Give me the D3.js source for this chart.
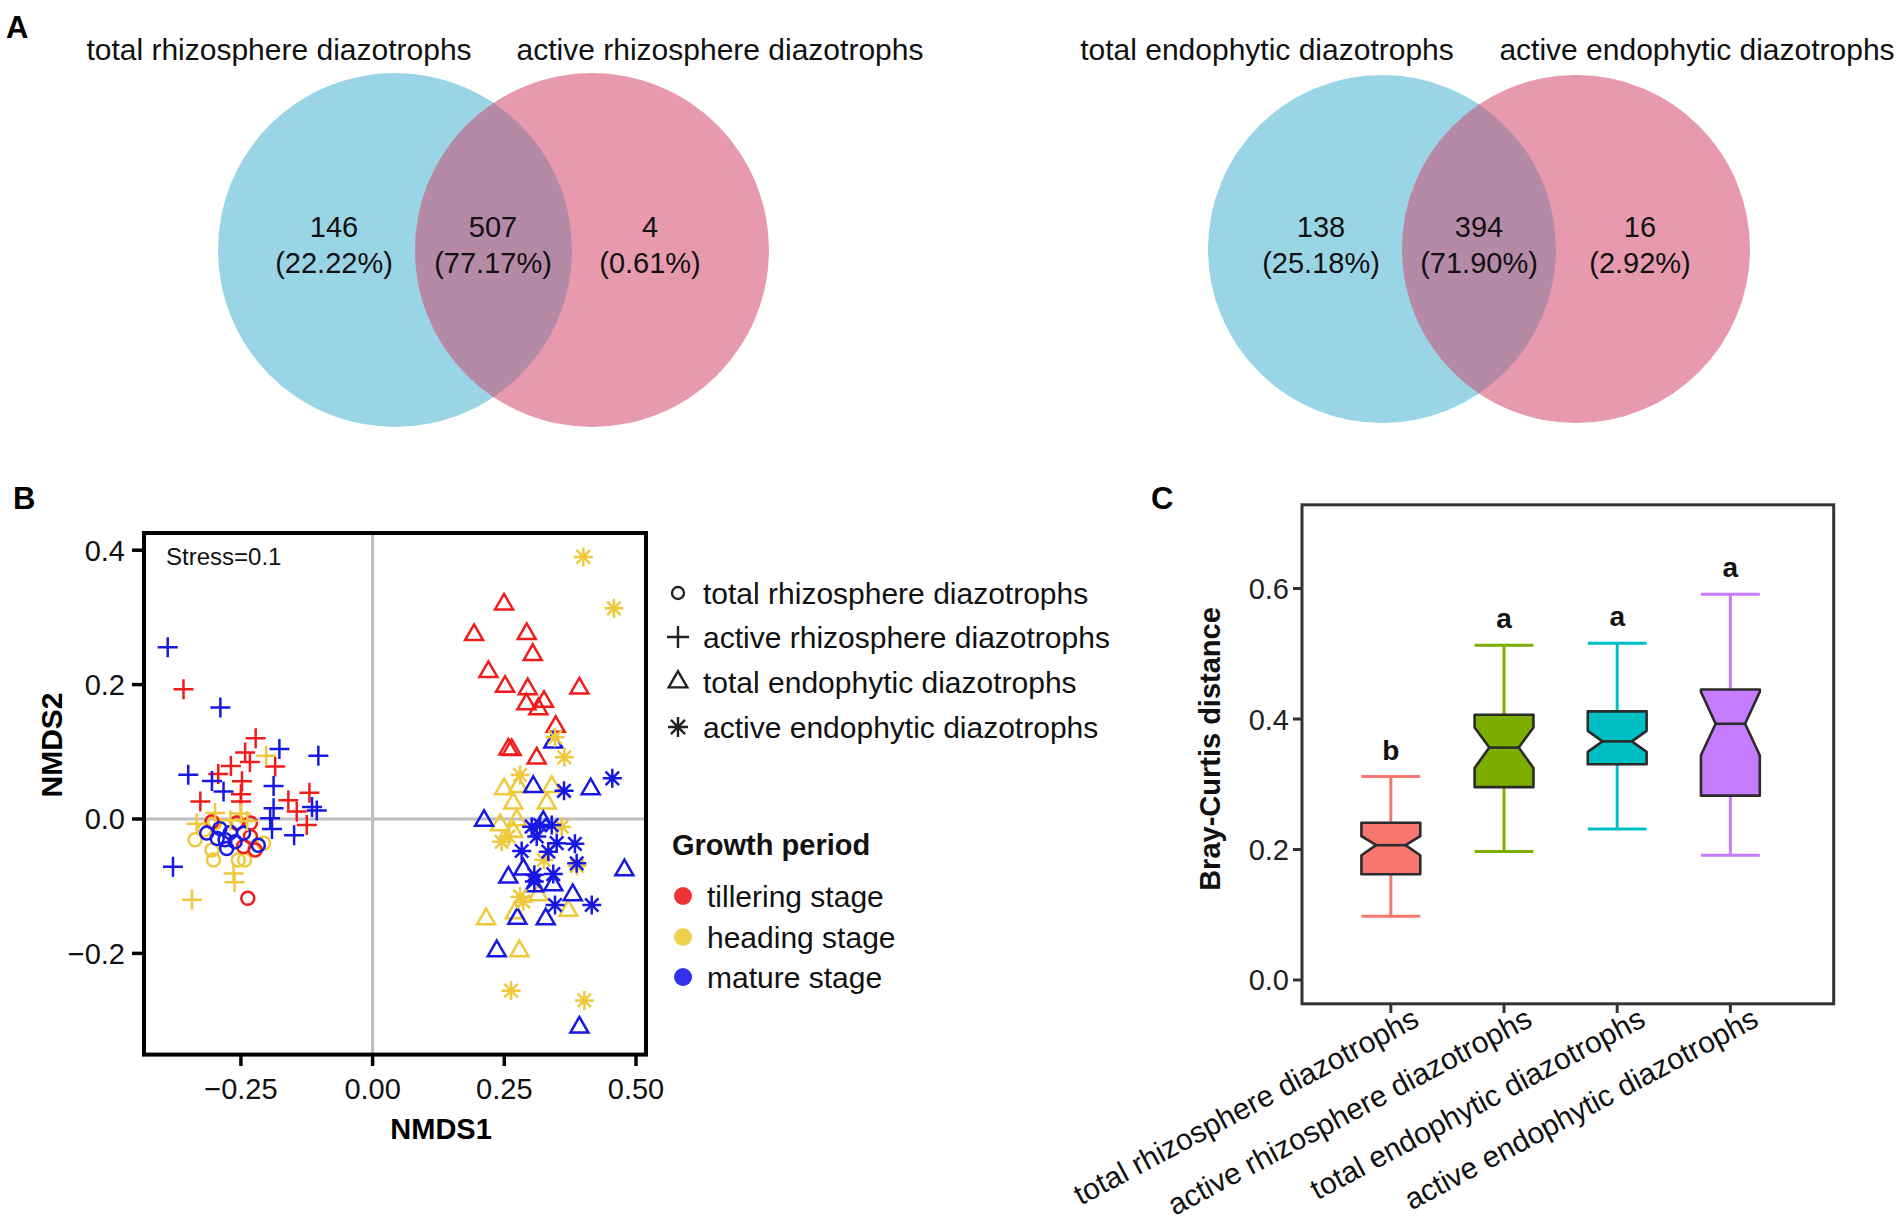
<!DOCTYPE html>
<html><head><meta charset="utf-8">
<script src="https://cdn.jsdelivr.net/npm/d3@7"></script>
<style>body{margin:0;background:#fff}svg{display:block}text{font-family:"Liberation Sans",Arial,Helvetica,sans-serif}</style>
</head><body><svg id="chart" width="1904" height="1225"></svg>
<script>
// ---------------- DATA ----------------
const vennLeftSets = ["total rhizosphere diazotrophs", "active rhizosphere diazotrophs"];
const vennLeftCounts = [146, 507, 4];
const vennLeftPct = ["(22.22%)", "(77.17%)", "(0.61%)"];
const vennRightSets = ["total endophytic diazotrophs", "active endophytic diazotrophs"];
const vennRightCounts = [138, 394, 16];
const vennRightPct = ["(25.18%)", "(71.90%)", "(2.92%)"];

const groupNames = ["total rhizosphere diazotrophs", "active rhizosphere diazotrophs",
  "total endophytic diazotrophs", "active endophytic diazotrophs"];
const stageNames = ["tillering stage", "heading stage", "mature stage"];
const stageColors = ["#F21B1B", "#EEC93C", "#1818E3"];
const stageLegendColors = ["#EE3333", "#EED04E", "#3030EE"];

// NMDS points: [NMDS1, NMDS2, stage index]
const totalRhizo = [
  [-0.337,-0.031,1],[-0.302,-0.061,1],[-0.305,-0.046,1],[-0.255,-0.061,1],[-0.243,-0.061,1],
  [-0.319,-0.016,1],[-0.300,-0.006,1],[-0.207,-0.036,1],[-0.255,-0.005,1],
  [-0.305,-0.004,0],[-0.258,-0.006,0],[-0.232,-0.006,0],[-0.223,-0.046,0],[-0.245,-0.041,0],
  [-0.232,-0.026,0],[-0.237,-0.118,0],
  [-0.315,-0.021,2],[-0.290,-0.014,2],[-0.280,-0.031,2],[-0.277,-0.044,2],[-0.261,-0.034,2],
  [-0.245,-0.021,2],[-0.217,-0.039,2],[-0.295,-0.029,2],[-0.270,-0.020,2]
];
const activeRhizo = [
  [-0.359,0.193,0],[-0.222,0.120,0],[-0.242,0.099,0],[-0.233,0.085,0],[-0.185,0.078,0],
  [-0.269,0.079,0],[-0.293,0.067,0],[-0.248,0.056,0],[-0.120,0.039,0],[-0.327,0.026,0],
  [-0.250,0.026,0],[-0.250,0.037,0],[-0.160,0.028,0],[-0.144,0.011,0],[-0.125,-0.009,0],
  [-0.202,0.094,1],[-0.299,0.009,1],[-0.250,0.008,1],[-0.334,-0.007,1],[-0.270,-0.002,1],
  [-0.238,-0.003,1],[-0.264,-0.081,1],[-0.262,-0.094,1],[-0.343,-0.120,1],
  [-0.389,0.2555,2],[-0.289,0.166,2],[-0.177,0.104,2],[-0.103,0.094,2],[-0.350,0.066,2],
  [-0.305,0.0565,2],[-0.283,0.041,2],[-0.188,0.049,2],[-0.188,0.016,2],[-0.115,0.018,2],
  [-0.106,0.0125,2],[-0.1945,0.001,2],[-0.191,-0.015,2],[-0.149,-0.024,2],[-0.379,-0.071,2]
];
const totalEndo = [
  [0.2495,0.3195,0],[0.1926,0.274,0],[0.2926,0.2755,0],[0.304,0.2445,0],[0.2198,0.219,0],
  [0.2514,0.197,0],[0.2945,0.1935,0],[0.3925,0.1945,0],[0.292,0.171,0],[0.3254,0.1746,0],
  [0.3147,0.1637,0],[0.3476,0.1374,0],[0.2577,0.1037,0],[0.264,0.103,0],[0.3115,0.0903,0],
  [0.2495,0.0446,1],[0.2767,0.048,1],[0.340,0.048,1],[0.267,0.0233,1],[0.3305,0.0233,1],
  [0.242,-0.009,1],[0.2737,-0.0015,1],[0.267,-0.019,1],[0.3147,-0.113,1],[0.3716,-0.1364,1],
  [0.2154,-0.1488,1],[0.270,-0.140,1],[0.2786,-0.1964,1],
  [0.343,0.114,2],[0.305,0.048,2],[0.414,0.0446,2],[0.2116,-0.0025,2],[0.324,-0.004,2],
  [0.478,-0.076,2],[0.2577,-0.0868,2],[0.2862,-0.075,2],[0.307,-0.0997,2],[0.343,-0.0984,2],
  [0.380,-0.113,2],[0.2748,-0.148,2],[0.3286,-0.149,2],[0.2357,-0.1964,2],[0.3925,-0.310,2]
];
const activeEndo = [
  [0.400,0.390,1],[0.458,0.3135,1],[0.3463,0.1216,1],[0.364,0.0918,1],[0.280,0.0655,1],
  [0.359,-0.0114,1],[0.245,-0.034,1],[0.258,-0.026,1],[0.325,-0.061,1],[0.388,-0.070,1],
  [0.280,-0.1156,1],[0.2862,-0.123,1],[0.2628,-0.2555,1],[0.402,-0.270,1],
  [0.455,0.0605,2],[0.3634,0.042,2],[0.302,-0.0114,2],[0.318,-0.009,2],[0.340,-0.009,2],
  [0.3115,-0.026,2],[0.3495,-0.036,2],[0.384,-0.037,2],[0.283,-0.0476,2],[0.3336,-0.0486,2],
  [0.3874,-0.066,2],[0.307,-0.083,2],[0.307,-0.093,2],[0.343,-0.082,2],[0.3463,-0.128,2],
  [0.416,-0.128,2]
];
const nmdsXTicks = [-0.25, 0, 0.25, 0.5];
const nmdsXTickLabels = ["\u22120.25", "0.00", "0.25", "0.50"];
const nmdsYTicks = [-0.2, 0, 0.2, 0.4];
const nmdsYTickLabels = ["\u22120.2", "0.0", "0.2", "0.4"];
const stressLabel = "Stress=0.1";

// Box plot (Bray-Curtis distance)
const boxCategories = groupNames;
const boxColors = ["#F8766D", "#7CAE00", "#00BFC4", "#C77CFF"];
const whiskerLow = [0.0978, 0.197, 0.2314, 0.1912];
const q1 = [0.162, 0.2956, 0.3307, 0.2825];
const medians = [0.2066, 0.3562, 0.3657, 0.3927];
const q3 = [0.241, 0.4066, 0.4117, 0.4453];
const whiskerHigh = [0.3117, 0.513, 0.516, 0.5912];
const notchLow = [0.1912, 0.325, 0.3496, 0.3445];
const notchHigh = [0.2204, 0.387, 0.3818, 0.4416];
const sigLetters = ["b", "a", "a", "a"];
const bcTicks = [0.0, 0.2, 0.4, 0.6];

// ---------------- DRAW ----------------
const svg = d3.select("#chart");
const FS = 30;

// Panel letters
[["A", 6, 38], ["B", 13, 509], ["C", 1151, 509]].forEach(([t, x, y]) =>
  svg.append("text").attr("x", x).attr("y", y).attr("font-size", 31)
    .attr("font-weight", "bold").text(t));

// ----- Venn diagrams -----
const vennBlue = "#9AD5E6", vennPink = "#E79AAE", vennOverlap = "#B58AA7";
function venn(id, c1x, c2x, cy, r, sets, counts, pct, labelX, numX) {
  const g = svg.append("g");
  g.append("clipPath").attr("id", id).append("circle").attr("cx", c1x).attr("cy", cy).attr("r", r);
  g.append("circle").attr("cx", c1x).attr("cy", cy).attr("r", r).attr("fill", vennBlue);
  g.append("circle").attr("cx", c2x).attr("cy", cy).attr("r", r).attr("fill", vennPink);
  g.append("circle").attr("cx", c2x).attr("cy", cy).attr("r", r).attr("fill", vennOverlap)
    .attr("clip-path", `url(#${id})`);
  sets.forEach((s, i) => g.append("text").attr("x", labelX[i]).attr("y", 60)
    .attr("text-anchor", "middle").attr("font-size", FS).attr("fill", "#111").text(s));
  counts.forEach((c, i) => {
    g.append("text").attr("x", numX[i]).attr("y", 237).attr("text-anchor", "middle")
      .attr("font-size", 29).attr("fill", "#111").text(c);
    g.append("text").attr("x", numX[i]).attr("y", 273).attr("text-anchor", "middle")
      .attr("font-size", 29).attr("fill", "#111").text(pct[i]);
  });
}
venn("clipL", 395, 592, 250, 177, vennLeftSets, vennLeftCounts, vennLeftPct, [279, 720], [334, 493, 650]);
venn("clipR", 1382, 1576, 249, 174, vennRightSets, vennRightCounts, vennRightPct, [1267, 1697], [1321, 1479, 1640]);

// ----- NMDS scatter -----
const bx = d3.scaleLinear().domain([-0.434, 0.519]).range([144, 646]);
const by = d3.scaleLinear().domain([-0.3506, 0.4256]).range([1054.6, 533]);
const gB = svg.append("g");
gB.append("line").attr("x1", bx(0)).attr("x2", bx(0)).attr("y1", by.range()[0]).attr("y2", by.range()[1])
  .attr("stroke", "#BEBEBE").attr("stroke-width", 3);
gB.append("line").attr("y1", by(0)).attr("y2", by(0)).attr("x1", bx.range()[0]).attr("x2", bx.range()[1])
  .attr("stroke", "#BEBEBE").attr("stroke-width", 3);

const shapePath = {
  circle: r => d3.symbol().type(d3.symbolCircle).size(Math.PI * r * r)(),
  plus: r => `M${-r},0H${r}M0,${-r}V${r}`,
  triangle: r => d3.symbol().type(d3.symbolTriangle).size(r)(),
  asterisk: r => { const d = r * Math.SQRT1_2;
    return `M${-r},0H${r}M0,${-r}V${r}M${-d},${-d}L${d},${d}M${-d},${d}L${d},${-d}`; }
};
const groupsData = [
  { pts: totalRhizo, shape: "circle", size: 6.5 },
  { pts: activeRhizo, shape: "plus", size: 10 },
  { pts: totalEndo, shape: "triangle", size: 140 },
  { pts: activeEndo, shape: "asterisk", size: 9.5 }
];
groupsData.forEach(gd => {
  gB.selectAll(null).data(gd.pts).enter().append("path")
    .attr("transform", d => `translate(${bx(d[0])},${by(d[1])})`)
    .attr("d", shapePath[gd.shape](gd.size))
    .attr("fill", "none").attr("stroke", d => stageColors[d[2]]).attr("stroke-width", 2.5);
});
// frame
gB.append("rect").attr("x", 144).attr("y", 533).attr("width", 502).attr("height", 521.6)
  .attr("fill", "none").attr("stroke", "#000").attr("stroke-width", 4);
// ticks
nmdsYTicks.forEach((t, i) => {
  gB.append("line").attr("x1", 132).attr("x2", 144).attr("y1", by(t)).attr("y2", by(t))
    .attr("stroke", "#000").attr("stroke-width", 3.5);
  gB.append("text").attr("x", 125).attr("y", by(t) + 10.5).attr("text-anchor", "end")
    .attr("font-size", 29).attr("fill", "#111").text(nmdsYTickLabels[i]);
});
nmdsXTicks.forEach((t, i) => {
  gB.append("line").attr("x1", bx(t)).attr("x2", bx(t)).attr("y1", 1054).attr("y2", 1066)
    .attr("stroke", "#000").attr("stroke-width", 3.5);
  gB.append("text").attr("x", bx(t)).attr("y", 1099).attr("text-anchor", "middle")
    .attr("font-size", 29).attr("fill", "#111").text(nmdsXTickLabels[i]);
});
gB.append("text").attr("x", 166).attr("y", 565).attr("font-size", 24).attr("fill", "#111").text(stressLabel);
gB.append("text").attr("x", bx(0.13)).attr("y", 1139).attr("text-anchor", "middle")
  .attr("font-size", 29).attr("font-weight", "bold").text("NMDS1");
gB.append("text").attr("transform", "translate(62,745) rotate(-90)").attr("text-anchor", "middle")
  .attr("font-size", 30).attr("font-weight", "bold").text("NMDS2");

// shape legend
const legShapes = [["circle", 6], ["plus", 11], ["triangle", 150], ["asterisk", 10]];
const legRowY = [593, 637, 682, 727];
groupNames.forEach((n, i) => {
  svg.append("path").attr("transform", `translate(678,${legRowY[i]})`)
    .attr("d", shapePath[legShapes[i][0]](legShapes[i][1]))
    .attr("fill", "none").attr("stroke", "#222").attr("stroke-width", 2.4);
  svg.append("text").attr("x", 703).attr("y", legRowY[i] + 11).attr("font-size", FS)
    .attr("fill", "#111").text(n);
});
// stage legend
svg.append("text").attr("x", 672).attr("y", 855).attr("font-size", 29).attr("font-weight", "bold")
  .attr("fill", "#111").text("Growth period");
const stRowY = [896, 937, 977];
stageNames.forEach((s, i) => {
  svg.append("circle").attr("cx", 683).attr("cy", stRowY[i]).attr("r", 9).attr("fill", stageLegendColors[i]);
  svg.append("text").attr("x", 707).attr("y", stRowY[i] + 11).attr("font-size", FS)
    .attr("fill", "#111").text(s);
});

// ----- Box plot -----
const cx = d3.scaleLinear().domain([0.215, 4.913]).range([1302, 1833.7]);
const cy = d3.scaleLinear().domain([-0.0365, 0.7283]).range([1003.8, 504.8]);
const gC = svg.append("g");
const hw = cx(1.26) - cx(1);
boxCategories.forEach((c, i) => {
  const x = cx(i + 1), col = boxColors[i];
  [[q3[i], whiskerHigh[i]], [q1[i], whiskerLow[i]]].forEach(([a, b]) => {
    gC.append("line").attr("x1", x).attr("x2", x).attr("y1", cy(a)).attr("y2", cy(b))
      .attr("stroke", col).attr("stroke-width", 3);
    gC.append("line").attr("x1", x - hw).attr("x2", x + hw).attr("y1", cy(b)).attr("y2", cy(b))
      .attr("stroke", col).attr("stroke-width", 3);
  });
  const p = d3.path();
  p.moveTo(x - hw, cy(q3[i])); p.lineTo(x + hw, cy(q3[i])); p.lineTo(x + hw, cy(notchHigh[i]));
  p.lineTo(x + hw / 2, cy(medians[i])); p.lineTo(x + hw, cy(notchLow[i])); p.lineTo(x + hw, cy(q1[i]));
  p.lineTo(x - hw, cy(q1[i])); p.lineTo(x - hw, cy(notchLow[i])); p.lineTo(x - hw / 2, cy(medians[i]));
  p.lineTo(x - hw, cy(notchHigh[i])); p.closePath();
  gC.append("path").attr("d", p.toString()).attr("fill", col).attr("stroke", "#2B2B2B")
    .attr("stroke-width", 2.6).attr("stroke-linejoin", "round");
  gC.append("line").attr("x1", x - hw / 2).attr("x2", x + hw / 2).attr("y1", cy(medians[i])).attr("y2", cy(medians[i]))
    .attr("stroke", "#2B2B2B").attr("stroke-width", 2.6);
  gC.append("text").attr("x", x).attr("y", cy(whiskerHigh[i]) - 17).attr("text-anchor", "middle")
    .attr("font-size", 28).attr("font-weight", "bold").attr("fill", "#111").text(sigLetters[i]);
  gC.append("line").attr("x1", x).attr("x2", x).attr("y1", 1003.8).attr("y2", 1013)
    .attr("stroke", "#333").attr("stroke-width", 3);
  gC.append("text").attr("transform", `translate(${x + 30},1025) rotate(-28)`)
    .attr("text-anchor", "end").attr("font-size", FS).attr("fill", "#111").text(c);
});
gC.append("rect").attr("x", 1302).attr("y", 504.8).attr("width", 531.7).attr("height", 499)
  .attr("fill", "none").attr("stroke", "#333").attr("stroke-width", 3);
bcTicks.forEach(t => {
  gC.append("line").attr("x1", 1293).attr("x2", 1302).attr("y1", cy(t)).attr("y2", cy(t))
    .attr("stroke", "#333").attr("stroke-width", 3);
  gC.append("text").attr("x", 1289).attr("y", cy(t) + 10.5).attr("text-anchor", "end")
    .attr("font-size", 29).attr("fill", "#222").text(t.toFixed(1));
});
gC.append("text").attr("transform", "translate(1220,749) rotate(-90)").attr("text-anchor", "middle")
  .attr("font-size", 29).attr("font-weight", "bold").attr("fill", "#111").text("Bray-Curtis distance");
</script></body></html>
